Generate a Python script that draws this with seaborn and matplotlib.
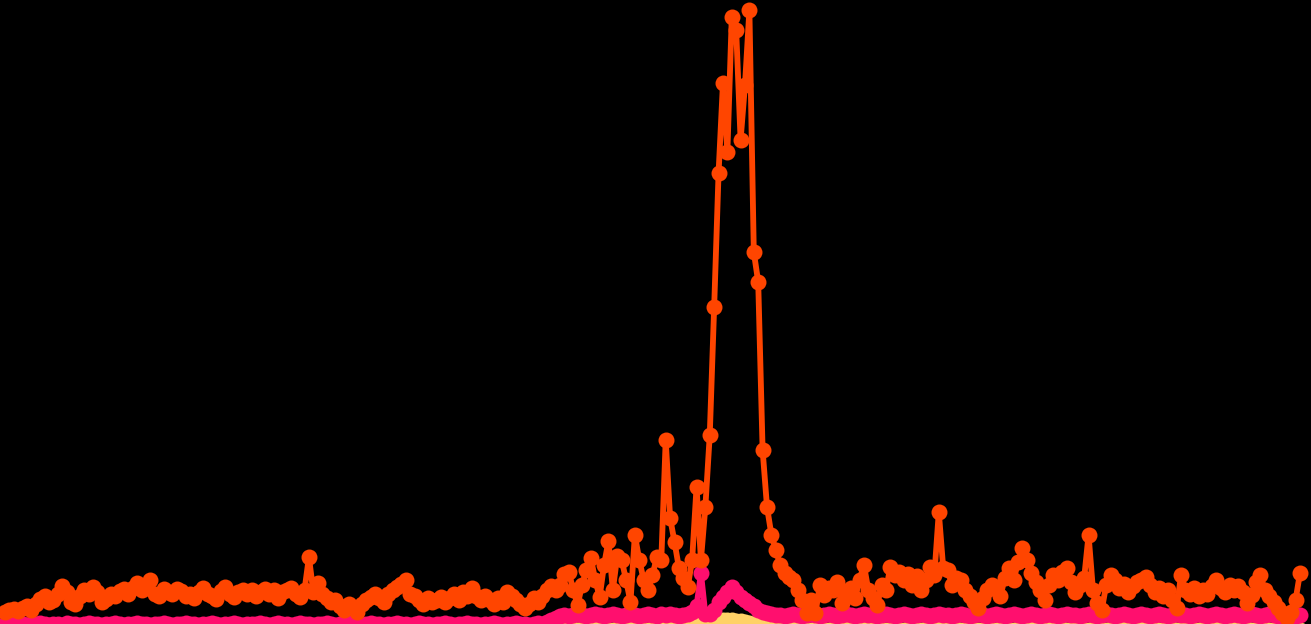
import matplotlib.pyplot as plt
import seaborn as sns

# Values (one point per sample, top series first)
orange = [
    18, 20, 21, 19, 22, 24, 20, 26, 31, 34,
    28, 30, 36, 44, 38, 28, 26, 34, 40, 36,
    43, 38, 28, 31, 36, 34, 39, 41, 36, 42,
    47, 40, 44, 50, 36, 34, 41, 38, 36, 41,
    39, 34, 36, 32, 38, 42, 36, 34, 31, 39,
    43, 36, 33, 38, 40, 36, 40, 34, 38, 41,
    36, 40, 32, 38, 40, 42, 36, 33, 40, 73,
    38, 47, 36, 32, 28, 30, 24, 20, 26, 22,
    18, 26, 30, 33, 36, 32, 28, 36, 40, 43,
    46, 50, 36, 34, 30, 26, 32, 28, 30, 33,
    28, 32, 36, 30, 38, 34, 42, 34, 30, 34,
    30, 26, 32, 28, 38, 34, 30, 26, 22, 26,
    32, 28, 34, 40, 44, 40, 45, 56, 58, 40,
    25, 45, 60, 72, 50, 33, 65, 89, 40, 74,
    70, 50, 28, 95, 70, 50, 40, 55, 73, 70,
    190, 112, 88, 62, 52, 43, 70, 143, 70, 123,
    195, 323, 457, 547, 478, 613, 600, 490, 545, 620,
    378, 348, 180, 123, 95, 80, 65, 57, 53, 50,
    40, 30, 17, 30, 17, 45, 35, 42, 40, 48,
    27, 38, 42, 32, 50, 65, 40, 32, 25, 45,
    40, 63, 55, 58, 50, 56, 45, 54, 40, 50,
    63, 55, 118, 62, 60, 45, 52, 50, 40, 34,
    28, 22, 32, 40, 45, 42, 34, 52, 62, 50,
    68, 82, 70, 57, 48, 40, 30, 45, 55, 50,
    58, 62, 48, 38, 45, 52, 95, 40, 27, 20,
    45, 55, 50, 42, 46, 38, 44, 48, 50, 53,
    45, 38, 42, 34, 40, 30, 22, 55, 40, 36,
    42, 34, 40, 36, 44, 50, 42, 38, 45, 40,
    44, 38, 27, 35, 48, 55, 40, 34, 28, 22,
    17, 12, 18, 30, 57,
]

pink = [
    6, 5, 6, 7, 6, 5, 6, 6, 7, 6,
    5, 6, 6, 5, 7, 6, 6, 5, 6, 7,
    6, 6, 5, 6, 6, 7, 6, 5, 6, 6,
    7, 6, 6, 5, 6, 6, 7, 6, 5, 6,
    6, 7, 6, 6, 5, 6, 6, 7, 6, 5,
    6, 6, 7, 6, 5, 6, 6, 6, 7, 6,
    5, 6, 7, 6, 6, 5, 6, 7, 6, 6,
    5, 6, 6, 7, 6, 5, 6, 6, 7, 6,
    6, 5, 6, 7, 6, 6, 5, 6, 6, 7,
    6, 6, 5, 6, 7, 6, 6, 5, 6, 6,
    7, 6, 5, 6, 6, 7, 6, 6, 5, 6,
    6, 7, 6, 5, 6, 6, 7, 6, 6, 5,
    6, 7, 6, 8, 10, 12, 14, 15, 14, 15,
    16, 15, 14, 15, 16, 15, 14, 15, 16, 15,
    14, 15, 16, 15, 14, 15, 16, 15, 14, 16,
    15, 16, 15, 14, 15, 16, 18, 24, 57, 16,
    16, 20, 28, 33, 38, 43, 38, 33, 30, 27,
    24, 20, 18, 17, 16, 15, 15, 14, 15, 16,
    15, 14, 15, 16, 15, 14, 15, 16, 15, 14,
    15, 16, 15, 14, 15, 16, 15, 15, 14, 15,
    16, 15, 14, 15, 16, 15, 14, 15, 16, 15,
    14, 15, 16, 15, 15, 14, 15, 16, 15, 14,
    15, 16, 15, 14, 15, 16, 15, 14, 15, 16,
    15, 14, 15, 16, 15, 14, 15, 16, 15, 14,
    15, 16, 15, 15, 14, 15, 16, 15, 14, 15,
    16, 15, 14, 15, 16, 15, 14, 15, 16, 15,
    14, 15, 16, 15, 14, 15, 16, 15, 15, 14,
    15, 16, 15, 14, 15, 16, 15, 14, 15, 16,
    15, 14, 15, 16, 15, 14, 15, 16, 15, 14,
    13, 12, 13, 14, 15,
]

yellow = [
    0, 1, 0, 0, 1, 0, 0, 0, 1, 0,
    0, 0, 1, 0, 0, 1, 0, 0, 0, 1,
    0, 0, 1, 0, 0, 0, 1, 0, 0, 1,
    0, 0, 0, 1, 0, 0, 1, 0, 0, 0,
    1, 0, 0, 1, 0, 0, 0, 1, 0, 0,
    1, 0, 0, 0, 1, 0, 0, 1, 0, 0,
    0, 1, 0, 0, 1, 0, 0, 0, 1, 0,
    0, 1, 0, 0, 0, 1, 0, 0, 1, 0,
    0, 0, 1, 0, 0, 1, 0, 0, 0, 1,
    0, 0, 1, 0, 0, 0, 1, 0, 0, 1,
    0, 0, 0, 1, 0, 0, 1, 0, 0, 0,
    1, 0, 0, 1, 0, 0, 0, 1, 0, 0,
    1, 0, 0, 0, 1, 0, 0, 1, 0, 1,
    0, 1, 0, 0, 1, 0, 1, 0, 0, 1,
    0, 0, 1, 0, 1, 0, 0, 1, 0, 1,
    0, 1, 1, 2, 2, 3, 4, 5, 5, 6,
    7, 8, 9, 10, 10, 10, 9, 9, 8, 7,
    6, 5, 4, 4, 3, 3, 2, 2, 1, 1,
    0, 1, 0, 0, 1, 0, 0, 0, 1, 0,
    0, 1, 0, 0, 0, 1, 0, 0, 1, 0,
    0, 0, 1, 0, 0, 1, 0, 0, 0, 1,
    0, 0, 1, 0, 0, 0, 1, 0, 0, 1,
    0, 0, 0, 1, 0, 0, 1, 0, 0, 0,
    1, 0, 0, 1, 0, 0, 0, 1, 0, 0,
    1, 0, 0, 0, 1, 0, 0, 1, 0, 0,
    0, 1, 0, 0, 1, 0, 0, 0, 1, 0,
    0, 1, 0, 0, 0, 1, 0, 0, 1, 0,
    0, 0, 1, 0, 0, 1, 0, 0, 0, 1,
    0, 0, 1, 0, 0, 0, 1, 0, 0, 1,
    0, 0, 0, 1, 0,
]

idx = list(range(len(orange)))

fig = plt.figure(figsize=(13.11, 6.24), dpi=100, facecolor="black")
ax = fig.add_axes([0, 0, 1, 1])
ax.set_facecolor("black")

style = dict(marker="o", markersize=11.5, markeredgewidth=0, linewidth=4.2)

# bottom series first, top series drawn last
sns.lineplot(x=idx, y=yellow, ax=ax, color="#ffd166", **style)
sns.lineplot(x=idx, y=pink, ax=ax, color="#ff0f6e", **style)
sns.lineplot(x=idx, y=orange, ax=ax, color="#ff4500", **style)

ax.set_xlim(-1.135, 296.5)
ax.set_ylim(6, 630)
ax.axis("off")

fig.savefig("out.png", dpi=100, facecolor="black")
